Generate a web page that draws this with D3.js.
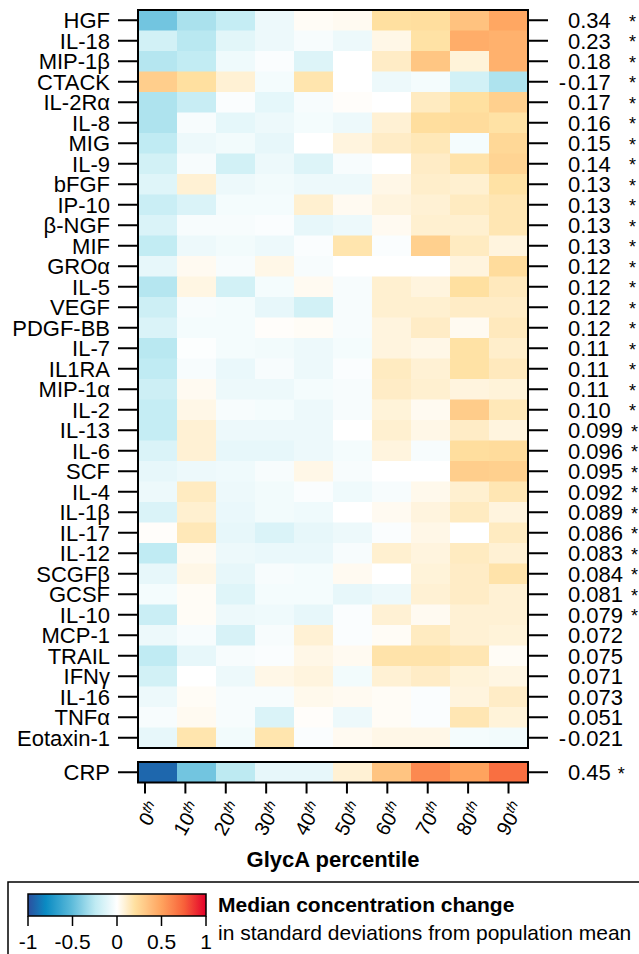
<!DOCTYPE html>
<html>
<head>
<meta charset="utf-8">
<script src="https://cdn.jsdelivr.net/npm/d3@7"></script>
<style>
  body { margin: 0; background: #fff; }
  svg { display: block; font-family: "Liberation Sans", Arial, sans-serif; }
</style>
</head>
<body>
<script>
// rows of the heat map, top to bottom
const markers = ["HGF","IL-18","MIP-1β","CTACK","IL-2Rα","IL-8","MIG","IL-9","bFGF","IP-10",
  "β-NGF","MIF","GROα","IL-5","VEGF","PDGF-BB","IL-7","IL1RA","MIP-1α","IL-2","IL-13","IL-6",
  "SCF","IL-4","IL-1β","IL-17","IL-12","SCGFβ","GCSF","IL-10","MCP-1","TRAIL","IFNγ","IL-16",
  "TNFα","Eotaxin-1"];

const percentiles = ["0","10","20","30","40","50","60","70","80","90"];

// association shown at the right (kept as printed)
const assoc = ["0.34","0.23","0.18","-0.17","0.17","0.16","0.15","0.14","0.13","0.13",
  "0.13","0.13","0.12","0.12","0.12","0.12","0.11","0.11","0.11","0.10","0.099","0.096",
  "0.095","0.092","0.089","0.086","0.083","0.084","0.081","0.079","0.072","0.075","0.071","0.073",
  "0.051","-0.021"];
const signif = markers.map((d, i) => i < 30);

// median change (SD units) per GlycA percentile bin
const cells = [
  [-0.45,-0.30,-0.22,-0.07, 0.02, 0.03, 0.20, 0.21, 0.35, 0.48],
  [-0.17,-0.26,-0.11,-0.07,-0.03,-0.07, 0.05, 0.19, 0.45, 0.43],
  [-0.27,-0.23,-0.06,-0.02,-0.13, 0.00, 0.12, 0.33, 0.08, 0.43],
  [ 0.29, 0.20, 0.09,-0.04, 0.17, 0.00,-0.07,-0.04,-0.17,-0.29],
  [-0.29,-0.21,-0.02,-0.10,-0.03, 0.01, 0.00, 0.13, 0.20, 0.28],
  [-0.29,-0.03,-0.10,-0.07,-0.04,-0.07, 0.09, 0.21, 0.22, 0.19],
  [-0.24,-0.07,-0.05,-0.09, 0.00, 0.07, 0.12, 0.15,-0.04, 0.24],
  [-0.17,-0.03,-0.17,-0.07,-0.13,-0.03, 0.00, 0.12, 0.18, 0.26],
  [-0.12, 0.09,-0.07,-0.05,-0.07,-0.07, 0.05, 0.11, 0.10, 0.19],
  [-0.20,-0.14,-0.04,-0.04, 0.10, 0.03, 0.07, 0.09, 0.13, 0.16],
  [-0.14,-0.03,-0.03,-0.02,-0.09,-0.07, 0.03, 0.10, 0.10, 0.16],
  [-0.23,-0.07,-0.05,-0.07,-0.02, 0.17,-0.02, 0.28, 0.13, 0.07],
  [-0.09, 0.03,-0.03, 0.05,-0.03, 0.00, 0.00, 0.00, 0.07, 0.22],
  [-0.27, 0.06,-0.17,-0.04, 0.03,-0.03, 0.10, 0.07, 0.20, 0.14],
  [-0.19,-0.03,-0.04,-0.09,-0.17,-0.03, 0.10, 0.10, 0.12, 0.12],
  [-0.14,-0.04,-0.04, 0.01, 0.02,-0.03, 0.07, 0.12, 0.03, 0.14],
  [-0.26,-0.01,-0.04,-0.05,-0.07,-0.04, 0.07, 0.05, 0.19, 0.11],
  [-0.24,-0.03,-0.08,-0.03,-0.07,-0.02, 0.13, 0.09, 0.19, 0.14],
  [-0.19, 0.03,-0.07,-0.07,-0.04,-0.03, 0.12, 0.10, 0.07, 0.08],
  [-0.22, 0.05,-0.03,-0.04,-0.07,-0.03, 0.08, 0.03, 0.30, 0.15],
  [-0.22, 0.09,-0.07,-0.07,-0.07, 0.00, 0.10, 0.05, 0.12, 0.07],
  [-0.14, 0.09,-0.09,-0.09,-0.07,-0.04, 0.07,-0.03, 0.21, 0.22],
  [-0.09,-0.07,-0.06,-0.03, 0.05,-0.03, 0.00, 0.00, 0.29, 0.28],
  [-0.07, 0.13,-0.07,-0.05,-0.02,-0.06,-0.03, 0.04, 0.10, 0.16],
  [-0.14, 0.10,-0.08,-0.05,-0.06, 0.00, 0.03, 0.07, 0.13, 0.07],
  [ 0.01, 0.15,-0.09,-0.14,-0.09,-0.07,-0.02, 0.05, 0.00, 0.13],
  [-0.24, 0.03,-0.07,-0.08,-0.08,-0.03, 0.10, 0.07, 0.13, 0.09],
  [-0.09, 0.05,-0.09,-0.03,-0.04, 0.03, 0.00, 0.08, 0.12, 0.18],
  [-0.04, 0.02,-0.12,-0.04,-0.04,-0.09,-0.07, 0.09, 0.12, 0.09],
  [-0.20, 0.02,-0.07,-0.06,-0.09,-0.02, 0.09, 0.03, 0.09, 0.09],
  [-0.07,-0.03,-0.15,-0.03, 0.09,-0.02, 0.02, 0.13, 0.09, 0.08],
  [-0.24,-0.09,-0.03,-0.02, 0.05, 0.03, 0.18, 0.18, 0.16, 0.02],
  [-0.17, 0.00,-0.07, 0.05, 0.07,-0.05, 0.09, 0.12, 0.08, 0.06],
  [-0.07, 0.02,-0.03,-0.03, 0.04, 0.03, 0.02,-0.02, 0.07, 0.12],
  [-0.03, 0.03,-0.03,-0.14, 0.01,-0.07, 0.02,-0.02, 0.16, 0.08],
  [-0.09, 0.17,-0.05, 0.17,-0.02, 0.03, 0.05, 0.05,-0.04,-0.05]
];

const crpCells = [-0.92,-0.45,-0.25,-0.09,-0.09, 0.09, 0.34, 0.60, 0.50, 0.70];
const crpAssoc = "0.45";

const legendTicks = [-1, -0.5, 0, 0.5, 1];

const W = 639, H = 954;
const font = 22;

const svg = d3.select("body").append("svg")
    .attr("width", W)
    .attr("height", H);

const color = d3.scaleLinear()
    .domain([-1, -0.8, -0.5, -0.25, 0, 0.2, 0.5, 0.75, 1])
    .range(["#2c4f9f","#0a8bc3","#5fbcdb","#bdeaf2","#ffffff","#ffe0a0","#ffa35e","#f8623a","#e4002b"])
    .clamp(true);

const x = d3.scaleBand().domain(percentiles).range([138, 528]);
const xTick = d3.scalePoint().domain(percentiles).range([145, 508.5]);
const y = d3.scaleBand().domain(markers).range([10, 748]);

// main heat map
const rows = svg.append("g")
  .selectAll("g")
  .data(cells)
  .join("g");

rows.selectAll("rect")
  .data((r, i) => r.map((v, j) => ({ v, j, i })))
  .join("rect")
    .attr("x", d => x(percentiles[d.j]))
    .attr("y", d => y(markers[d.i]))
    .attr("width", x.bandwidth() + 0.5)
    .attr("height", y.bandwidth() + 0.5)
    .attr("fill", d => color(d.v));

svg.append("rect")
    .attr("x", 138).attr("y", 10)
    .attr("width", 390).attr("height", 738)
    .attr("fill", "none").attr("stroke", "#000").attr("stroke-width", 2);

// CRP strip
const crpY = 762, crpH = y.bandwidth();
svg.append("g").selectAll("rect")
  .data(crpCells)
  .join("rect")
    .attr("x", (d, j) => x(percentiles[j]))
    .attr("y", crpY)
    .attr("width", x.bandwidth() + 0.5)
    .attr("height", crpH)
    .attr("fill", d => color(d));

svg.append("rect")
    .attr("x", 138).attr("y", crpY)
    .attr("width", 390).attr("height", crpH)
    .attr("fill", "none").attr("stroke", "#000").attr("stroke-width", 2);

// row labels + ticks
const allRows = markers.map((m, i) => ({ name: m, cy: y(m) + y.bandwidth() / 2, val: assoc[i], sig: signif[i], crp: false }));
allRows.push({ name: "CRP", cy: crpY + crpH / 2, val: crpAssoc, sig: true, crp: true });

const ticks = svg.append("g").attr("stroke", "#000").attr("stroke-width", 2);
ticks.selectAll(".l").data(allRows).join("line")
    .attr("x1", 118).attr("x2", 138)
    .attr("y1", d => d.cy).attr("y2", d => d.cy);
ticks.selectAll(".r").data(allRows).join("line")
    .attr("x1", 528).attr("x2", 548)
    .attr("y1", d => d.cy).attr("y2", d => d.cy);

svg.append("g")
    .attr("font-size", font)
    .attr("text-anchor", "end")
  .selectAll("text")
  .data(allRows)
  .join("text")
    .attr("x", 110)
    .attr("y", d => d.cy)
    .attr("dy", "0.36em")
    .text(d => d.name);

const right = svg.append("g").attr("font-size", font);
allRows.forEach(d => {
  const neg = d.val.startsWith("-");
  const num = neg ? d.val.slice(1) : d.val;
  if (neg) {
    right.append("text")
        .attr("x", 566).attr("y", d.cy).attr("dy", "0.36em")
        .attr("text-anchor", "end")
        .text("-");
  }
  const t = right.append("text")
      .attr("x", 568).attr("y", d.cy).attr("dy", "0.36em")
      .text(num);
  if (d.sig) {
    const len = t.node().getComputedTextLength();
    right.append("text")
        .attr("x", d.crp ? 568 + len + 7 : Math.max(629, 568 + len + 8))
        .attr("y", d.cy).attr("dy", "0.42em")
        .attr("font-size", 18)
        .text("*");
  }
});

// x axis
const xa = svg.append("g");
xa.selectAll("line").data(percentiles).join("line")
    .attr("x1", d => xTick(d)).attr("x2", d => xTick(d))
    .attr("y1", crpY + crpH).attr("y2", crpY + crpH + 11)
    .attr("stroke", "#000").attr("stroke-width", 2);

const xl = xa.selectAll("text").data(percentiles).join("text")
    .attr("transform", d => `translate(${xTick(d) + 10},${804}) rotate(-60)`)
    .attr("text-anchor", "end")
    .attr("dy", "0.35em")
    .attr("font-size", 20);
xl.append("tspan").text(d => d);
xl.append("tspan")
    .attr("font-size", 14)
    .attr("font-style", "italic")
    .attr("dy", "-0.5em")
    .text("th");

svg.append("text")
    .attr("x", 333).attr("y", 867)
    .attr("text-anchor", "middle")
    .attr("font-size", 22)
    .attr("font-weight", "bold")
    .text("GlycA percentile");

// legend
svg.append("rect")
    .attr("x", 8).attr("y", 882)
    .attr("width", 700).attr("height", 120)
    .attr("fill", "none").attr("stroke", "#000").attr("stroke-width", 1.5);

const lx = d3.scaleLinear().domain([-1, 1]).range([28, 206]);
const grad = svg.append("defs").append("linearGradient").attr("id", "lg");
d3.range(0, 1.0001, 0.02).forEach(t => {
  grad.append("stop")
      .attr("offset", t)
      .attr("stop-color", color(-1 + 2 * t));
});
svg.append("rect")
    .attr("x", lx(-1)).attr("y", 894)
    .attr("width", lx(1) - lx(-1)).attr("height", 22)
    .attr("fill", "url(#lg)")
    .attr("stroke", "#000").attr("stroke-width", 1.5);

svg.append("g").selectAll("line").data(legendTicks).join("line")
    .attr("x1", d => lx(d)).attr("x2", d => lx(d))
    .attr("y1", 916).attr("y2", 926)
    .attr("stroke", "#000").attr("stroke-width", 1.5);

svg.append("g")
    .attr("font-size", 21)
    .attr("text-anchor", "middle")
  .selectAll("text").data(legendTicks).join("text")
    .attr("x", d => lx(d))
    .attr("y", 949)
    .text(d => d);

svg.append("text")
    .attr("x", 218).attr("y", 912)
    .attr("font-size", 21)
    .attr("font-weight", "bold")
    .text("Median concentration change");

svg.append("text")
    .attr("x", 218).attr("y", 940)
    .attr("font-size", 21)
    .text("in standard deviations from population mean");
</script>
</body>
</html>
